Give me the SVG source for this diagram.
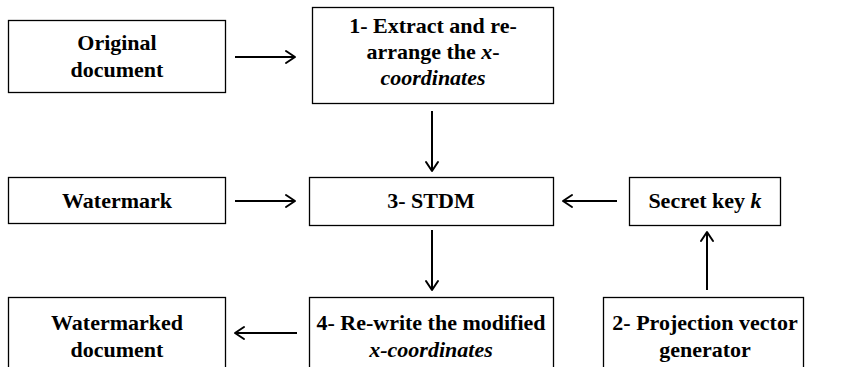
<svg xmlns="http://www.w3.org/2000/svg" width="864" height="367" viewBox="0 0 864 367">
<defs>
<style>
.box{fill:#fff;stroke:#000;stroke-width:1.3}
text{font-family:'Liberation Serif','DejaVu Serif',serif;font-weight:bold;font-size:22px;text-anchor:middle;fill:#000}
.i{font-style:italic}
.c{stroke:#000;stroke-width:2;fill:none}
.h{stroke:#000;stroke-width:2;fill:none;stroke-linecap:round;stroke-linejoin:round}
</style>
</defs>
<rect width="864" height="367" fill="#fff"/>
<g id="node-original">
<rect class="box" x="8.5" y="20.5" width="217" height="72"/>
<text x="117" y="50">Original</text>
<text x="117" y="77">document</text>
</g>
<g id="node-extract">
<rect class="box" x="312.5" y="7.5" width="241" height="96"/>
<text x="433" y="33">1- Extract and re-</text>
<text x="433" y="59">arrange the <tspan class="i">x</tspan>-</text>
<text class="i" x="433" y="85">coordinates</text>
</g>
<g id="node-watermark">
<rect class="box" x="8.5" y="177.5" width="217" height="46"/>
<text x="117" y="208">Watermark</text>
</g>
<g id="node-stdm">
<rect class="box" x="309.5" y="177.5" width="244" height="48"/>
<text x="431" y="208">3- STDM</text>
</g>
<g id="node-secret">
<rect class="box" x="629.5" y="177.5" width="151" height="48"/>
<text x="705" y="208">Secret key <tspan class="i">k</tspan></text>
</g>
<g id="node-watermarked">
<rect class="box" x="8.5" y="297.5" width="217" height="80"/>
<text x="117" y="330">Watermarked</text>
<text x="117" y="357">document</text>
</g>
<g id="node-rewrite">
<rect class="box" x="309.5" y="297.5" width="244" height="80"/>
<text x="431" y="330">4- Re-write the modified</text>
<text class="i" x="431" y="357">x-coordinates</text>
</g>
<g id="node-projection">
<rect class="box" x="603.5" y="297.5" width="200" height="80"/>
<text x="705" y="330">2- Projection vector</text>
<text x="705" y="357">generator</text>
</g>
<g id="connectors">
<line class="c" x1="235" y1="57" x2="294" y2="57"/><path class="h" d="M286,51 L295,57 L286,63"/>
<line class="c" x1="432" y1="111" x2="432" y2="171"/><path class="h" d="M426,162 L432,171 L438,162"/>
<line class="c" x1="235" y1="201" x2="294" y2="201"/><path class="h" d="M286,195 L295,201 L286,207"/>
<line class="c" x1="617" y1="201" x2="564" y2="201"/><path class="h" d="M572,195 L563,201 L572,207"/>
<line class="c" x1="707" y1="290" x2="707" y2="233"/><path class="h" d="M701,241 L707,232 L713,241"/>
<line class="c" x1="432" y1="230" x2="432" y2="290"/><path class="h" d="M426,281 L432,290 L438,281"/>
<line class="c" x1="297" y1="333" x2="236" y2="333"/><path class="h" d="M244,327 L235,333 L244,339"/>
</g>
</svg>
